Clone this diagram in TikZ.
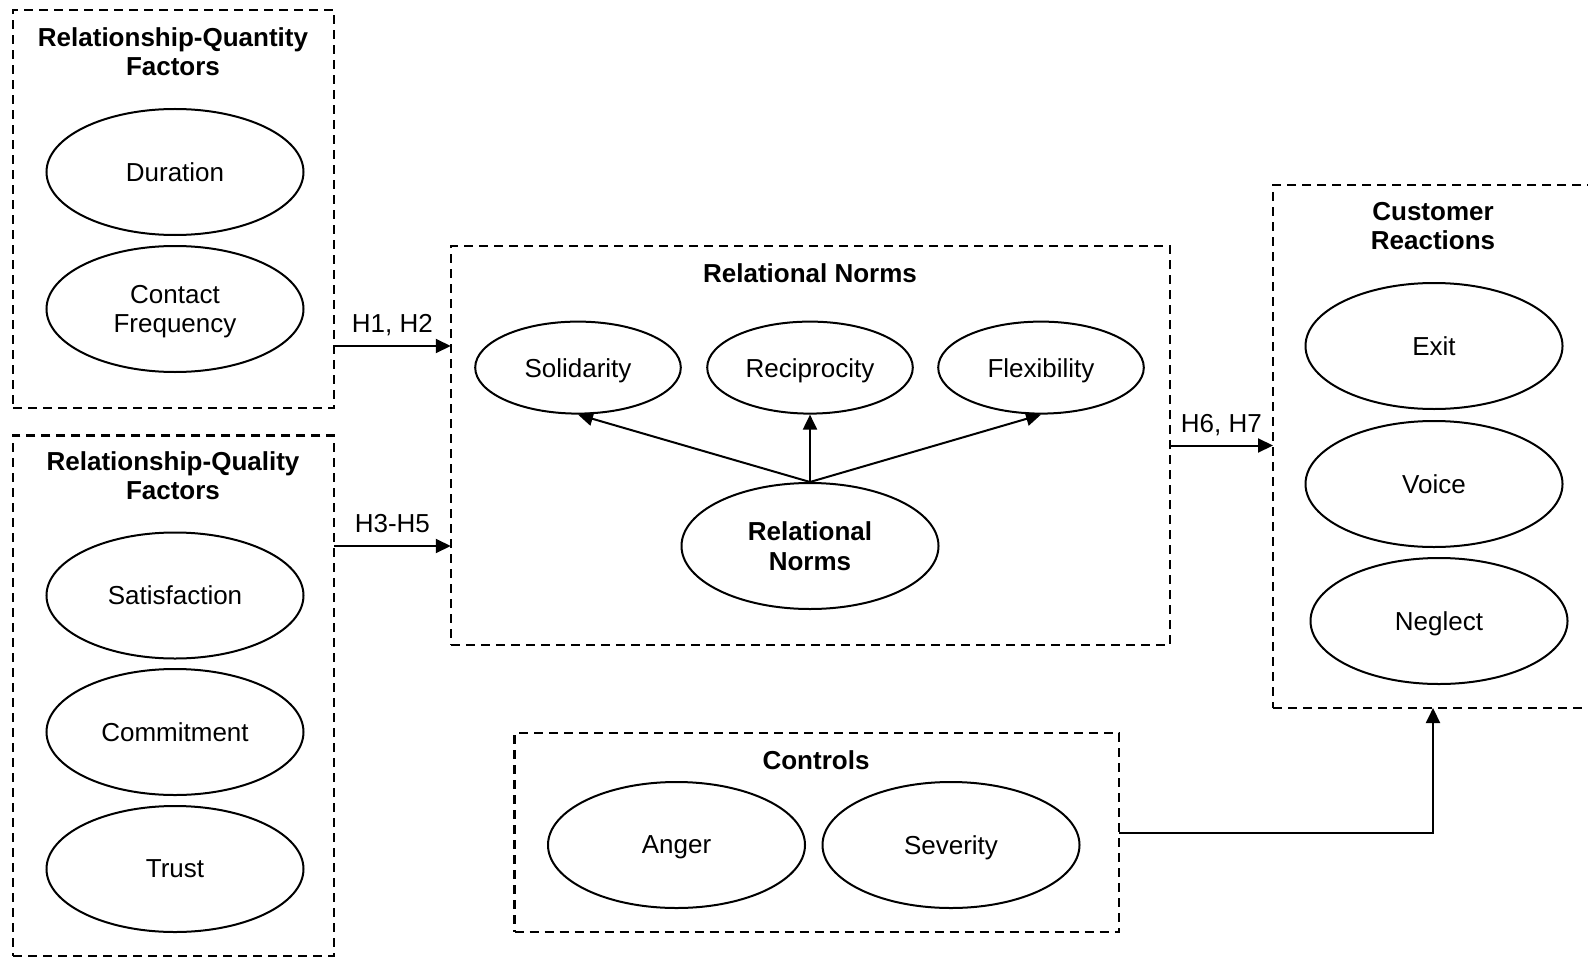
\documentclass[tikz,border=0pt]{standalone}
\usepackage{fontspec}
\setmainfont{Liberation Sans}
\usetikzlibrary{shapes.geometric,arrows.meta}

\begin{document}
\begin{tikzpicture}[x=0.5pt,y=-0.5pt,
    every node/.style={font=\fontsize{13}{14.7}\selectfont},
    group/.style={draw,rectangle,dash pattern=on 4.5pt off 3pt,line width=1.1pt,inner sep=0pt,outer sep=0pt},
    var/.style={draw,ellipse,line width=1pt,inner sep=0pt,text depth=0pt,minimum width=128.5pt,minimum height=63pt,align=center},
    small/.style={var,minimum width=102.8pt,minimum height=46pt},
    title/.style={font=\fontsize{13}{14.7}\selectfont\bfseries,align=center},
    hyp/.style={above=2.8pt,text depth=0pt},
    arr/.style={-{Triangle[length=7.5pt,width=7pt]},line width=1pt}]
    \useasboundingbox (0,0) rectangle (1588,957);
    % groups
    \node[group,minimum width=160.4pt,minimum height=199pt] (qnt) at (173.6,209) {};
    \node[group,minimum width=160.4pt,minimum height=260.25pt] (qlt) at (173.6,695.75) {};
    \node[group,minimum width=359.5pt,minimum height=199.5pt] (norms) at (810.25,445.5) {};
    \node[group,minimum width=160pt,minimum height=261.5pt] (cr) at (1433,446.5) {};
    \node[group,minimum width=302.25pt,minimum height=99.5pt] (ctrl) at (816.75,832.5) {};
    \node[title] (qnttitle) at (173,52) {Relationship-Quantity\\Factors};
    \node[title] (qlttitle) at (173,476) {Relationship-Quality\\Factors};
    \node[title] (normstitle) at (810,273.5) {Relational Norms};
    \node[title] (crtitle) at (1433,226) {Customer\\Reactions};
    \node[title] (ctrltitle) at (816,760) {Controls};
    % constructs
    \node[var] (dur) at (175,172) {Duration};
    \node[var] (cf) at (175,309) {Contact\\Frequency};
    \node[var] (sat) at (175,595.5) {Satisfaction};
    \node[var] (com) at (175,732) {Commitment};
    \node[var] (tru) at (175,869) {Trust};
    \node[small] (sol) at (578,367.6) {Solidarity};
    \node[small] (rec) at (810,367.6) {Reciprocity};
    \node[small] (flex) at (1041,367.6) {Flexibility};
    \node[var,font=\fontsize{13}{14.7}\selectfont\bfseries] (rn) at (810,546) {Relational\\Norms};
    \node[var] (exit) at (1434,346) {Exit};
    \node[var] (voice) at (1434,484) {Voice};
    \node[var] (neg) at (1439,621) {Neglect};
    \node[var] (ang) at (676.5,845) {Anger};
    \node[var] (sev) at (951,845) {Severity};
    % paths
    \coordinate (h12) at (0,346);
    \draw[arr] (qnt.east |- h12) -- (norms.west |- h12) node[midway,hyp] {H1, H2};
    \draw[arr] (qlt.east |- rn) -- (norms.west |- rn) node[midway,hyp] {H3-H5};
    \draw[arr] (norms.east) -- (cr.west |- norms.east) node[midway,hyp] {H6, H7};
    \draw[arr] (ctrl.east) -| (cr.south);
    \draw[arr] (rn.north) -- (sol.south);
    \draw[arr] (rn.north) -- (rec.south);
    \draw[arr] (rn.north) -- (flex.south);
\end{tikzpicture}
\end{document}
